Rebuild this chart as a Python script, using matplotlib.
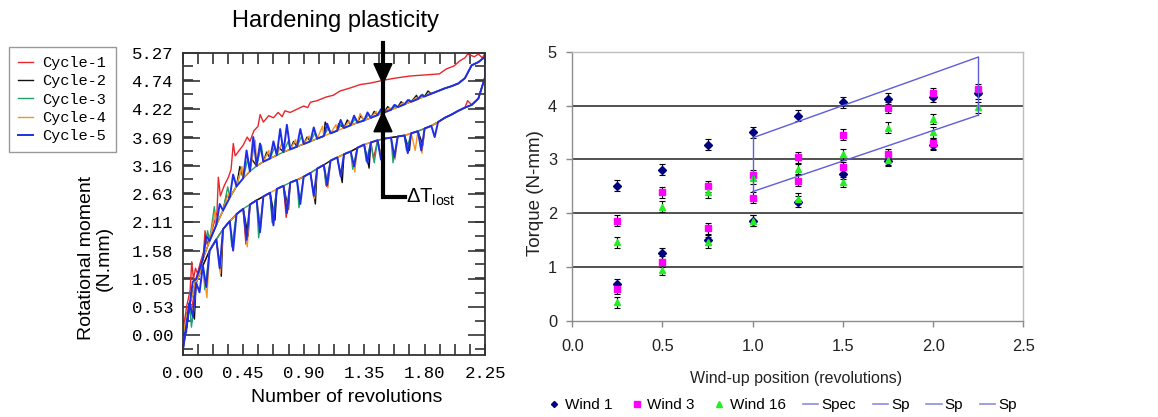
import numpy as np
import matplotlib.pyplot as plt
from matplotlib.ticker import FixedLocator, MultipleLocator, AutoMinorLocator, FormatStrFormatter
from matplotlib.lines import Line2D
from matplotlib.patches import Polygon

plt.rcParams['mathtext.fontset'] = 'custom'
plt.rcParams['mathtext.rm'] = 'Liberation Sans'
plt.rcParams['mathtext.it'] = 'Liberation Sans:italic'

SANS = 'Liberation Sans'
MONO = 'Liberation Mono'

# ---------------- left panel: rotational moment vs revolutions ----------------
GRID_X = [0.00, 0.05, 0.10, 0.15, 0.20, 0.25, 0.30, 0.35, 0.40, 0.45,
          0.50, 0.55, 0.60, 0.65, 0.70, 0.75, 0.80, 0.85, 0.90, 0.95,
          1.00, 1.05, 1.10, 1.15, 1.20, 1.25, 1.30, 1.35, 1.40, 1.45,
          1.50, 1.55, 1.60, 1.65, 1.70, 1.75, 1.80, 1.85, 1.90, 1.95,
          2.00, 2.05, 2.10, 2.15, 2.20, 2.25]
# loading branch of cycles 2-5 (lower envelope)
UPPER_Y = [-0.30, 0.55, 1.05, 1.42, 1.76, 2.06, 2.33, 2.57, 2.78, 2.93,
           3.06, 3.16, 3.24, 3.30, 3.36, 3.42, 3.47, 3.52, 3.57, 3.62,
           3.67, 3.72, 3.77, 3.82, 3.87, 3.92, 3.97, 4.01, 4.06, 4.11,
           4.16, 4.21, 4.26, 4.31, 4.36, 4.41, 4.46, 4.51, 4.56, 4.61,
           4.65, 4.70, 4.80, 5.04, 5.10, 5.20]
# unloading branch shared by all cycles (upper envelope)
LOWER_Y = [0.00, 0.60, 0.98, 1.30, 1.58, 1.79, 1.98, 2.13, 2.26, 2.36,
           2.44, 2.52, 2.59, 2.66, 2.73, 2.79, 2.85, 2.90, 2.96, 3.03,
           3.11, 3.18, 3.26, 3.32, 3.38, 3.43, 3.50, 3.56, 3.60, 3.64,
           3.67, 3.69, 3.71, 3.73, 3.77, 3.81, 3.86, 3.91, 3.98, 4.06,
           4.12, 4.19, 4.25, 4.30, 4.42, 4.82]

# first loading (virgin curve)
RED_X = [0.00, 0.03, 0.055, 0.067, 0.08, 0.095, 0.11, 0.13, 0.155, 0.166,
         0.18, 0.21, 0.24, 0.255, 0.265, 0.28, 0.31, 0.34, 0.36, 0.376,
         0.39, 0.42, 0.45, 0.48, 0.50, 0.53, 0.56, 0.576, 0.60, 0.64,
         0.675, 0.71, 0.74, 0.76, 0.80, 0.85, 0.90, 0.93, 0.95, 1.00,
         1.07, 1.12, 1.17, 1.25, 1.32, 1.40, 1.49, 1.58, 1.69, 1.80,
         1.91, 1.96, 2.02, 2.06, 2.10, 2.12, 2.17, 2.20, 2.23, 2.25]
RED_Y = [0.05, 0.55, 0.84, 1.37, 1.05, 1.25, 1.15, 1.35, 1.55, 1.95,
         1.70, 1.90, 2.15, 2.30, 2.95, 2.60, 2.80, 2.95, 3.10, 3.58,
         3.35, 3.45, 3.55, 3.70, 3.62, 3.82, 3.90, 4.12, 3.98, 4.10,
         4.06, 4.16, 4.08, 4.19, 4.16, 4.22, 4.28, 4.25, 4.35, 4.38,
         4.45, 4.48, 4.56, 4.62, 4.68, 4.71, 4.76, 4.80, 4.84, 4.86,
         4.88, 4.97, 5.03, 5.12, 5.18, 5.25, 5.20, 5.25, 5.18, 5.27]

# stick-slip spikes on the loading branch (x, moment)
C2_UP = [(0.325, 2.60), (0.425, 3.15), (0.51, 3.30), (0.625, 3.42), (0.71, 3.52),
         (0.825, 3.62), (0.925, 3.70), (1.06, 3.98), (1.16, 3.95), (1.225, 4.02),
         (1.325, 4.10), (1.425, 4.18), (1.525, 4.27), (1.625, 4.36), (1.74, 4.48),
         (1.825, 4.56)]
C3_UP = [(0.185, 1.95), (0.235, 2.40), (0.335, 2.77), (0.435, 3.10), (0.485, 3.30),
         (0.585, 3.55), (0.685, 3.52), (0.785, 3.62), (0.885, 3.72), (0.985, 3.78),
         (1.085, 3.88), (1.185, 3.96), (1.285, 4.05), (1.385, 4.12), (1.485, 4.20),
         (1.585, 4.30), (1.685, 4.40), (1.785, 4.50)]
C4_UP = [(0.24, 2.30), (0.34, 2.65), (0.44, 3.15), (0.54, 3.64), (0.64, 3.45),
         (0.74, 3.60), (0.84, 3.65), (0.94, 3.72), (1.04, 3.90), (1.14, 3.93),
         (1.24, 4.00), (1.32, 4.14), (1.44, 4.18), (1.54, 4.25), (1.64, 4.34),
         (1.74, 4.44), (1.84, 4.52)]
C5_UP = [(0.075, 1.00), (0.175, 1.85), (0.275, 2.45), (0.375, 3.00), (0.475, 3.45),
         (0.525, 3.70), (0.575, 3.58), (0.675, 3.62), (0.725, 3.85), (0.775, 3.93),
         (0.875, 3.85), (0.975, 3.88), (1.075, 3.95), (1.175, 4.02), (1.275, 4.10),
         (1.375, 4.16), (1.475, 4.22), (1.575, 4.30), (1.675, 4.39), (1.775, 4.48)]

# teeth on the unloading branch (x, moment)
C1_DOWN = [(0.07, 0.55), (0.47, 1.70), (0.67, 2.10), (0.77, 2.20), (1.07, 2.78),
           (1.42, 3.30), (2.12, 4.38)]
C2_DOWN = [(0.087, 0.30), (0.287, 1.10), (0.487, 1.85), (0.687, 2.15), (0.787, 2.35),
           (0.987, 2.45), (1.187, 2.85), (1.387, 3.12), (1.487, 3.20), (1.687, 3.45),
           (1.787, 3.55)]
C3_DOWN = [(0.065, 0.15), (0.165, 0.85), (0.365, 1.65), (0.565, 1.82), (0.665, 2.10),
           (0.865, 2.38), (1.065, 2.80), (1.265, 3.10), (1.365, 3.25), (1.425, 3.22),
           (1.565, 3.22), (1.665, 3.45)]
C4_DOWN = [(0.08, 0.45), (0.18, 0.70), (0.28, 1.15), (0.48, 1.65), (0.58, 2.00),
           (0.78, 2.30), (0.98, 2.55), (1.08, 2.75), (1.28, 3.05), (1.48, 3.30),
           (1.58, 3.28), (1.73, 3.45), (1.78, 3.40)]
C5_DOWN = [(0.025, 0.05), (0.075, 0.35), (0.125, 0.80), (0.175, 0.90), (0.275, 1.25),
           (0.375, 1.58), (0.475, 1.78), (0.575, 1.92), (0.675, 2.05), (0.775, 2.28),
           (0.875, 2.45), (0.975, 2.60), (1.075, 2.80), (1.175, 2.97), (1.275, 3.15),
           (1.375, 3.22), (1.475, 3.28), (1.575, 3.32), (1.675, 3.40), (1.775, 3.45),
           (1.875, 3.70)]

CYCLE_LABELS = ['Cycle-1', 'Cycle-2', 'Cycle-3', 'Cycle-4', 'Cycle-5']
CYCLE_COLORS = ['#e8262b', '#111111', '#1fa36a', '#f7941d', '#1f2de6']
CYCLE_UP = [None, C2_UP, C3_UP, C4_UP, C5_UP]
CYCLE_DOWN = [C1_DOWN, C2_DOWN, C3_DOWN, C4_DOWN, C5_DOWN]

Y_TICKS = [0.00, 0.53, 1.05, 1.58, 2.11, 2.63, 3.16, 3.69, 4.22, 4.74, 5.27]
X_TICKS = [0.00, 0.45, 0.90, 1.35, 1.80, 2.25]

# ---------------- right panel: torque vs wind-up position ----------------
POSITIONS = [0.25, 0.5, 0.75, 1.0, 1.25, 1.5, 1.75, 2.0, 2.25]
WIND1_UP = [2.51, 2.81, 3.27, 3.50, 3.81, 4.06, 4.13, 4.16, 4.23]
WIND1_DOWN = [0.68, 1.25, 1.50, 1.86, 2.21, 2.73, 2.97, 3.27]
WIND3_UP = [1.86, 2.39, 2.50, 2.71, 3.04, 3.46, 3.96, 4.23, 4.30]
WIND3_DOWN = [0.59, 1.10, 1.72, 2.29, 2.60, 2.85, 3.10, 3.30]
WIND16_UP = [1.46, 2.12, 2.39, 2.65, 2.82, 3.09, 3.59, 3.75, 3.97]
WIND16_DOWN = [0.34, 0.95, 1.46, 1.86, 2.27, 2.58, 2.99, 3.50]
TORQUE_ERR = 0.1

# specification envelope, one segment per legend entry
SPEC_SEGMENTS = [('Spec', [1.0, 2.25], [3.40, 4.90]),
                 ('Sp', [2.25, 2.25], [4.90, 3.82]),
                 ('Sp', [2.25, 1.0], [3.82, 2.40]),
                 ('Sp', [1.0, 1.0], [2.40, 3.40])]
GRID_LEVELS = [1, 2, 3, 4]


def with_spikes(base_x, base_y, spikes):
    x = np.array(base_x, dtype=float)
    y = np.array(base_y, dtype=float)
    if spikes:
        sx, sy = zip(*spikes)
        x = np.concatenate([x, sx])
        y = np.concatenate([y, sy])
    order = np.argsort(x, kind='stable')
    return x[order], y[order]


fig = plt.figure(figsize=(11.58, 4.17), dpi=100)

# ---- left axes ----
ax = fig.add_axes([0.1578, 0.1487, 0.2611, 0.7242])
for i, color in enumerate(CYCLE_COLORS):
    if i == 0:
        lx, ly = np.array(RED_X), np.array(RED_Y)
    else:
        lx, ly = with_spikes(GRID_X, UPPER_Y, CYCLE_UP[i])
    ux, uy = with_spikes(GRID_X, LOWER_Y, CYCLE_DOWN[i])
    x = np.concatenate([lx, ux[::-1]])
    y = np.concatenate([ly, uy[::-1]])
    ax.plot(x, y, color=color, lw=1.4 if i == 4 else 1.0, label=CYCLE_LABELS[i])

ax.set_xlim(0, 2.25)
ax.set_ylim(-0.37, 5.27)
ax.yaxis.set_major_locator(FixedLocator(Y_TICKS))
ax.yaxis.set_minor_locator(AutoMinorLocator(2))
ax.xaxis.set_major_locator(FixedLocator(X_TICKS))
ax.xaxis.set_minor_locator(MultipleLocator(0.1125))
ax.yaxis.set_major_formatter(FormatStrFormatter('%.2f'))
ax.xaxis.set_major_formatter(FormatStrFormatter('%.2f'))
ax.tick_params(which='both', direction='in', top=True, right=True, color='#333333', width=1.2)
ax.tick_params(axis='y', which='major', length=12)
ax.tick_params(axis='y', which='minor', length=7)
ax.tick_params(axis='x', which='both', length=8)
ax.tick_params(axis='y', pad=7)
ax.tick_params(axis='x', pad=8)
for lab in ax.get_xticklabels() + ax.get_yticklabels():
    lab.set_fontfamily(MONO)
    lab.set_fontsize(12.5)
for sp in ax.spines.values():
    sp.set_linewidth(1.3)
    sp.set_color('#333333')

# hardening / lost-torque marker
arrow_x = 1.49
ax.plot([arrow_x, arrow_x, 1.655], [5.45, 2.58, 2.58], color='black', lw=3,
        solid_joinstyle='miter', clip_on=False, zorder=6)
half_w = 0.067
ax.add_patch(Polygon([[arrow_x - half_w, 5.07], [arrow_x + half_w, 5.07], [arrow_x, 4.70]],
                     closed=True, color='black', clip_on=False, zorder=6))
ax.add_patch(Polygon([[arrow_x - half_w, 3.80], [arrow_x + half_w, 3.80], [arrow_x, 4.17]],
                     closed=True, color='black', clip_on=False, zorder=6))
ax.text(1.665, 2.58, r'$\Delta\mathrm{T}_{\mathrm{lost}}$', fontsize=14.5,
        ha='left', va='center', zorder=6)

ax.legend(loc='upper left', bbox_to_anchor=(9 / 1158, 1 - 47 / 417),
          bbox_transform=fig.transFigure, borderaxespad=0,
          prop={'family': MONO, 'size': 11}, handlelength=1.0, handletextpad=0.6,
          labelspacing=0.28, borderpad=0.6, fancybox=False, edgecolor='#999999',
          framealpha=1)

fig.text(335 / 1158, 1 - 21 / 417, 'Hardening plasticity', family=SANS, fontsize=17,
         ha='center', va='center')
fig.text(95 / 1158, 1 - 258 / 417, 'Rotational moment\n(N.mm)', family=SANS, fontsize=14,
         rotation=90, ha='center', va='center', multialignment='center', linespacing=1.05)
fig.text(347 / 1158, 1 - 397 / 417, 'Number of revolutions', family=SANS, fontsize=14,
         ha='center', va='center')

# ---- right axes ----
ax2 = fig.add_axes([0.4942, 0.2309, 0.3895, 0.6451])
for level in GRID_LEVELS:
    ax2.axhline(level, color='#222222', lw=1.1, zorder=1)

series = [('Wind 1', WIND1_UP, WIND1_DOWN, 'D', 3.8, '#000080'),
          ('Wind 3', WIND3_UP, WIND3_DOWN, 's', 4.8, '#ff00ff'),
          ('Wind 16', WIND16_UP, WIND16_DOWN, '^', 4.8, '#22ee22')]
handles = []
for name, up, down, marker, ms, color in series:
    xs = POSITIONS + POSITIONS[:len(down)]
    ys = up + down
    ax2.errorbar(xs, ys, yerr=TORQUE_ERR, fmt=marker, ms=ms, color=color,
                 mec=color, ecolor='black', elinewidth=0.8, capsize=2, capthick=0.8, zorder=3)
    handles.append(Line2D([], [], ls='none', marker=marker, ms=ms * 0.8, color=color, label=name))

spec_color = '#5d5dda'
for name, sx, sy in SPEC_SEGMENTS:
    ax2.plot(sx, sy, color=spec_color, lw=1.0, zorder=4)
    handles.append(Line2D([], [], color='#8c8ce0', lw=1.2, label=name))

ax2.set_xlim(0, 2.5)
ax2.set_ylim(0, 5)
ax2.xaxis.set_major_locator(MultipleLocator(0.5))
ax2.yaxis.set_major_locator(MultipleLocator(1))
ax2.xaxis.set_major_formatter(FormatStrFormatter('%.1f'))
ax2.tick_params(direction='out', length=4, width=1, color='#888888', labelsize=11.8,
                labelcolor='#222222')
ax2.tick_params(axis='x', pad=9)
ax2.tick_params(axis='y', pad=7)
for lab in ax2.get_xticklabels() + ax2.get_yticklabels():
    lab.set_fontfamily(SANS)
ax2.spines['left'].set_color('#8c8c8c')
ax2.spines['bottom'].set_color('#8c8c8c')
ax2.spines['top'].set_color('#bdbdbd')
ax2.spines['right'].set_color('#bdbdbd')
for sp in ax2.spines.values():
    sp.set_linewidth(1.0)

fig.text(536 / 1158, 1 - 193 / 417, 'Torque (N-mm)', family=SANS, fontsize=13.5,
         rotation=90, ha='center', va='center', color='#222222')
fig.text(796 / 1158, 1 - 378 / 417, 'Wind-up position (revolutions)', family=SANS,
         fontsize=11.5, ha='center', va='center', color='#222222')

fig.legend(handles=handles, loc='center', bbox_to_anchor=(0.675, 0.029), ncol=7,
           frameon=False, prop={'family': SANS, 'size': 11}, handlelength=1.0,
           handletextpad=0.2, columnspacing=1.1)

fig.savefig('out.png', dpi=100)
